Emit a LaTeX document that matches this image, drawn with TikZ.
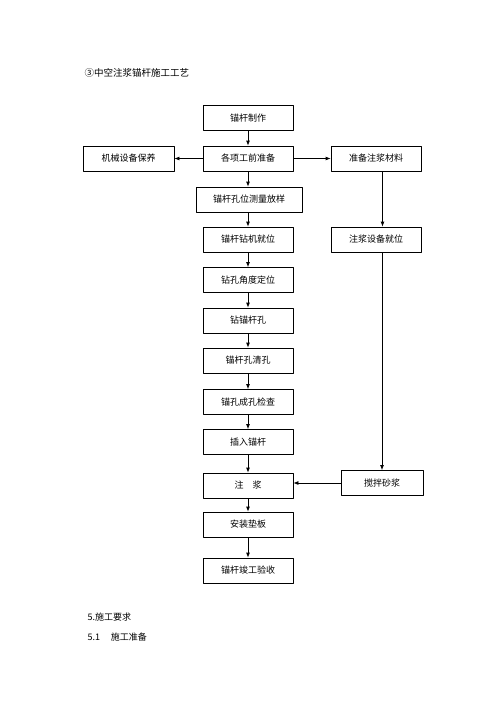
\documentclass[tikz,border=0pt]{standalone}
\usepackage{fontspec}
\setmainfont{Noto Sans CJK SC}
\usetikzlibrary{arrows.meta}
\tikzset{
  stepbox/.style={draw,line width=.8pt,minimum width=90pt,minimum height=25pt,inner sep=0pt,font=\fontsize{9}{10}\selectfont},
  arr/.style={-{Latex[length=5pt,width=4pt]},line width=.8pt},
  plain/.style={anchor=west,font=\fontsize{9.5}{11}\selectfont}
}
\begin{document}
\begin{tikzpicture}[x=1pt,y=-1pt,line join=round]
\useasboundingbox (0,0) rectangle (500,707);
\node[plain] (title) at (81,73) {③中空注浆锚杆施工工艺};
% main column
\node[stepbox] (mgzz) at (248,118) {锚杆制作};
\node[stepbox] (gxzb) at (248,158.5) {各项工前准备};
\node[stepbox,minimum width=106pt] (kwcl) at (249,199.5) {锚杆孔位测量放样};
\node[stepbox] (zjjw) at (248,239.5) {锚杆钻机就位};
\node[stepbox] (jddw) at (248,280) {钻孔角度定位};
\node[stepbox] (zmgk) at (248,320.5) {钻锚杆孔};
\node[stepbox] (mgqk) at (248,360.5) {锚杆孔清孔};
\node[stepbox] (ckjc) at (248,402) {锚孔成孔检查};
\node[stepbox] (crmg) at (248,442) {插入锚杆};
\node[stepbox] (zj) at (248,485.5) {注\hspace{1em}浆};
\node[stepbox] (azdb) at (248,524.5) {安装垫板};
\node[stepbox] (jgys) at (248,570.5) {锚杆竣工验收};
% side boxes
\node[stepbox,minimum width=91pt] (jxby) at (128.5,158.5) {机械设备保养};
\node[stepbox] (zbcl) at (376,158.5) {准备注浆材料};
\node[stepbox] (sbjw) at (376,239.5) {注浆设备就位};
\node[stepbox,minimum width=82pt] (jbsj) at (382,483) {搅拌砂浆};
% arrows
\draw[arr] (mgzz) -- (gxzb);
\draw[arr] (gxzb) -- (jxby);
\draw[arr] (gxzb) -- (zbcl);
\draw[arr] (gxzb) -- (gxzb.south |- kwcl.north);
\draw[arr] (kwcl.south -| zjjw) -- (zjjw);
\draw[arr] (zjjw) -- (jddw);
\draw[arr] (jddw) -- (zmgk);
\draw[arr] (zmgk) -- (mgqk);
\draw[arr] (mgqk) -- (ckjc);
\draw[arr] (ckjc) -- (crmg);
\draw[arr] (crmg) -- (zj);
\draw[arr] (zj) -- (azdb);
\draw[arr] (azdb) -- (jgys);
\draw[arr] ([xshift=6.5pt]zbcl.south) -- ([xshift=6.5pt]sbjw.north);
\draw[arr] ([xshift=6pt]sbjw.south) -- (jbsj.north);
\draw[arr] (jbsj.west) -- (jbsj.west -| zj.east);
% text below
\node[plain,font=\fontsize{9}{11}\selectfont] (req) at (84,617) {5.施工要求};
\node[plain,font=\fontsize{9}{11}\selectfont] (prep) at (84,637) {5.1\hspace{1.2em}施工准备};
\end{tikzpicture}
\end{document}
